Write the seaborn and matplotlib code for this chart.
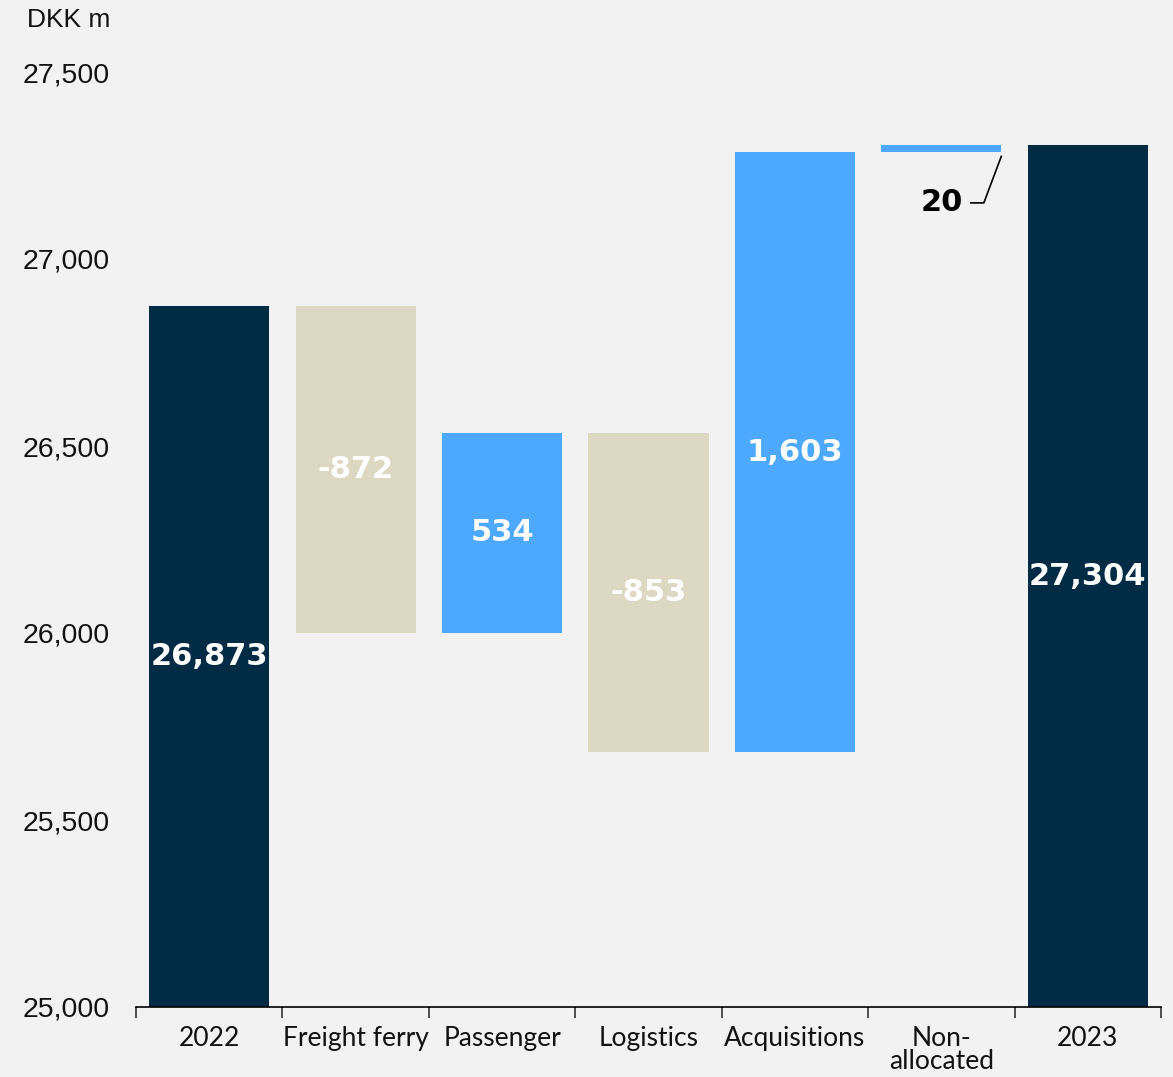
import matplotlib
matplotlib.use("Agg")
import matplotlib.pyplot as plt
import matplotlib.ticker as mticker
import numpy as np
import pandas as pd
import seaborn as sns

# Revenue bridge 2022 -> 2023, DKK m
categories = ["2022", "Freight ferry", "Passenger", "Logistics", "Acquisitions", "Non-\nallocated", "2023"]
values = [26873, -872, 534, -853, 1603, 20, 27304]
kinds = ["total", "delta", "delta", "delta", "delta", "delta", "total"]
labels = ["26,873", "-872", "534", "-853", "1,603", "20", "27,304"]
y_ticks = [25000, 25500, 26000, 26500, 27000, 27500]

NAVY = "#002B45"
BLUE = "#4DA9FF"
SAND = "#DDD8C2"
BG = "#F2F2F2"
Y_MIN, Y_MAX = 25000, 27500

# Running base / height for the floating bars
bottoms, heights = [], []
running = 0
for v, k in zip(values, kinds):
    if k == "total":
        bottoms.append(Y_MIN)
        heights.append(v - Y_MIN)
        running = v
    else:
        lo = running if v >= 0 else running + v
        bottoms.append(lo)
        heights.append(abs(v))
        running += v
colors = [NAVY if k == "total" else (BLUE if v >= 0 else SAND) for v, k in zip(values, kinds)]

df = pd.DataFrame({"category": categories, "height": heights, "bottom": bottoms})

sns.set_theme(style="white")
plt.rcParams["font.family"] = ["Liberation Sans", "DejaVu Sans"]

fig = plt.figure(figsize=(11.73, 10.77), dpi=100, facecolor=BG)
ax = fig.add_axes([136 / 1173, 1 - 1007 / 1077, (1161 - 136) / 1173, (1007 - 72) / 1077])
ax.set_facecolor(BG)

bar_width = 0.82
sns.barplot(data=df, x="category", y="height", order=categories, bottom=df["bottom"].values,
            width=bar_width, color=NAVY, errorbar=None, ax=ax, saturation=1)
for patch, c in zip(ax.patches, colors):
    patch.set_facecolor(c)
    patch.set_edgecolor("none")

ax.set_xlim(-0.5, len(categories) - 0.5)
ax.set_ylim(Y_MIN, Y_MAX)
ax.set_xlabel("")
ax.set_ylabel("")

# Value labels inside bars
for i, (b, h, lab) in enumerate(zip(bottoms, heights, labels)):
    if kinds[i] == "delta" and abs(values[i]) < 100:
        continue
    ax.text(i, b + h / 2, lab, ha="center", va="center", color="white",
            fontsize=22, fontweight="bold", family=["DejaVu Sans"])

# Small change: label outside with a leader line
for i, (b, h, lab) in enumerate(zip(bottoms, heights, labels)):
    if kinds[i] == "delta" and abs(values[i]) < 100:
        ty = b - 135
        ax.text(i, ty, lab, ha="center", va="center", color="black",
                fontsize=22, fontweight="bold", family=["DejaVu Sans"])
        x0 = i + 0.2
        x1 = i + 0.29
        x2 = i + bar_width / 2
        ax.plot([x0, x1, x2], [ty, ty, b - 10], color="black", lw=1.2, clip_on=False)

# Axes styling
for side in ["left", "right", "top"]:
    ax.spines[side].set_visible(False)
ax.spines["bottom"].set_color("black")
ax.spines["bottom"].set_linewidth(1.2)

ax.set_yticks(y_ticks)
ax.yaxis.set_major_formatter(mticker.FuncFormatter(lambda v, p: f"{int(v):,}"))
ax.tick_params(axis="y", length=0, pad=19, labelsize=20.5, labelcolor="#111111")
ax.set_xticks(range(len(categories)))
ax.set_xticklabels(categories)
ax.set_xticks(np.arange(-0.5, len(categories)), minor=True)
ax.tick_params(axis="x", which="major", length=0, pad=14, labelsize=19, labelcolor="#111111")
ax.tick_params(axis="x", which="minor", length=8, width=1.2, color="#333333", bottom=True)
for t in ax.get_xticklabels():
    t.set_family(["Lato", "DejaVu Sans"])
    t.set_linespacing(0.9)

fig.text(27 / 1173, 1 - 20 / 1077, "DKK m", ha="left", va="center", fontsize=19, color="#111111")

fig.savefig("out.png", dpi=100, facecolor=BG)
